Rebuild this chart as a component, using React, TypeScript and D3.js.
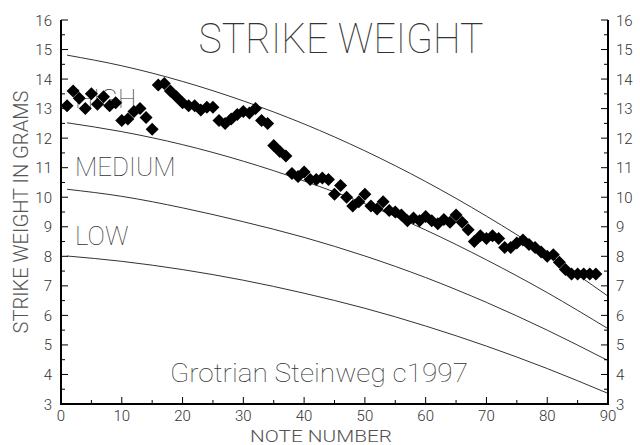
import React from "react";
import * as d3 from "d3";

const notes: number[] = Array.from({ length: 88 }, (_, i) => i + 1);
const weights: number[] = [
  13.1, 13.6, 13.35, 13.0, 13.5, 13.15, 13.4, 13.1, 13.2, 12.6,
  12.65, 12.9, 13.0, 12.7, 12.3, 13.8, 13.85, 13.6, 13.4, 13.2,
  13.1, 13.1, 12.95, 13.05, 13.05, 12.6, 12.5, 12.65, 12.8, 12.9,
  12.85, 13.0, 12.6, 12.5, 11.75, 11.55, 11.4, 10.8, 10.7, 10.85,
  10.6, 10.6, 10.65, 10.6, 10.1, 10.4, 10.0, 9.7, 9.85, 10.1,
  9.7, 9.6, 9.85, 9.55, 9.5, 9.4, 9.2, 9.3, 9.2, 9.35,
  9.2, 9.1, 9.25, 9.15, 9.4, 9.15, 8.9, 8.5, 8.7, 8.6,
  8.7, 8.6, 8.3, 8.3, 8.45, 8.55, 8.4, 8.3, 8.15, 8.0,
  8.05, 7.8, 7.55, 7.4, 7.4, 7.4, 7.4, 7.4,
];

const curveNotes: number[] = [1, 10, 20, 30, 40, 50, 60, 70, 80, 90];
const highUpper: number[] = [14.81, 14.45, 13.92, 13.26, 12.48, 11.57, 10.53, 9.36, 8.07, 6.65];
const highLower: number[] = [12.52, 12.22, 11.78, 11.22, 10.55, 9.78, 8.89, 7.88, 6.77, 5.55];
const mediumLower: number[] = [10.27, 10.03, 9.64, 9.17, 8.64, 8.01, 7.28, 6.44, 5.5, 4.47];
const lowLower: number[] = [8.01, 7.83, 7.55, 7.19, 6.75, 6.24, 5.64, 4.96, 4.2, 3.36];

const yTicks: number[] = [3, 4, 5, 6, 7, 8, 9, 10, 11, 12, 13, 14, 15, 16];
const yMinor: number[] = [3.5, 4.5, 5.5, 6.5, 7.5, 8.5, 9.5, 10.5, 11.5, 12.5, 13.5, 14.5, 15.5];
const xTicks: number[] = [0, 10, 20, 30, 40, 50, 60, 70, 80, 90];
const xMinor: number[] = [5, 15, 25, 35, 45, 55, 65, 75, 85];

const bandLabels: { text: string; value: number }[] = [
  { text: "HIGH", value: 13.36 },
  { text: "MEDIUM", value: 11.05 },
  { text: "LOW", value: 8.71 },
];

export default function App() {
  const W = 640, H = 445;
  const x = d3.scaleLinear().domain([0, 90]).range([61, 608]);
  const y = d3.scaleLinear().domain([3, 16]).range([404, 20]);
  const font = "Roboto, 'DejaVu Sans', sans-serif";
  const thinColor = "#333";
  const lightColor = "#555";

  const line = d3
    .line<number>()
    .x((_, i) => x(curveNotes[i]))
    .y((d) => y(d))
    .curve(d3.curveMonotoneX);

  const curves = [highUpper, highLower, mediumLower, lowLower];
  const r = 6.5;
  const diamond = `M0,${-r}L${r},0L0,${r}L${-r},0Z`;

  return (
    <svg
      width={W}
      height={H}
      style={{ position: "absolute", left: 0, top: 0, background: "#fff" }}
    >
      <rect width={W} height={H} fill="#fff" />
      <text
        x={341}
        y={53}
        textAnchor="middle"
        fontFamily={font}
        fontWeight={100}
        fontSize={42}
        fill={thinColor}
        textLength={285}
        lengthAdjust="spacingAndGlyphs"
      >
        STRIKE WEIGHT
      </text>
      {bandLabels.map((b) => (
        <text
          key={b.text}
          x={75}
          y={y(b.value) + 10}
          fontFamily={font}
          fontWeight={100}
          fontSize={26}
          fill={thinColor}
        >
          {b.text}
        </text>
      ))}
      <text
        x={319}
        y={382}
        textAnchor="middle"
        fontFamily={font}
        fontWeight={100}
        fontSize={26}
        fill={thinColor}
        textLength={298}
        lengthAdjust="spacingAndGlyphs"
      >
        Grotrian Steinweg c1997
      </text>
      <text
        transform={`translate(28,212) rotate(-90)`}
        textAnchor="middle"
        fontFamily={font}
        fontWeight={300}
        fontSize={20}
        fill={lightColor}
        textLength={243}
        lengthAdjust="spacingAndGlyphs"
      >
        STRIKE WEIGHT IN GRAMS
      </text>
      <text
        x={321}
        y={442}
        textAnchor="middle"
        fontFamily={font}
        fontWeight={300}
        fontSize={17}
        fill={lightColor}
        textLength={142}
        lengthAdjust="spacingAndGlyphs"
      >
        NOTE NUMBER
      </text>
      {curves.map((c, i) => (
        <path key={i} d={line(c) || ""} fill="none" stroke="#333" strokeWidth={1} />
      ))}
      {notes.map((n, i) => (
        <path
          key={n}
          d={diamond}
          transform={`translate(${x(n)},${y(weights[i])})`}
          fill="#000"
        />
      ))}
      <line x1={x(0)} x2={x(0)} y1={y(16)} y2={y(3) + 1} stroke="#000" strokeWidth={2} />
      <line x1={x(90)} x2={x(90)} y1={y(16)} y2={y(3) + 1} stroke="#000" strokeWidth={2} />
      <line x1={x(0) - 1} x2={x(90) + 1} y1={y(3)} y2={y(3)} stroke="#000" strokeWidth={2} />
      {yTicks.map((t) => (
        <g key={"yt" + t}>
          <line x1={x(0)} x2={x(0) + 7} y1={y(t)} y2={y(t)} stroke="#000" strokeWidth={1} />
          <line x1={x(90)} x2={x(90) - 7} y1={y(t)} y2={y(t)} stroke="#000" strokeWidth={1} />
          <text
            x={52}
            y={y(t) + 5.5}
            textAnchor="end"
            fontFamily={font}
            fontWeight={300}
            fontSize={15}
            fill="#333"
          >
            {t}
          </text>
          <text
            x={616}
            y={y(t) + 5.5}
            textAnchor="start"
            fontFamily={font}
            fontWeight={300}
            fontSize={15}
            fill="#333"
          >
            {t}
          </text>
        </g>
      ))}
      {yMinor.map((t) => (
        <g key={"ym" + t}>
          <line x1={x(0)} x2={x(0) + 4} y1={y(t)} y2={y(t)} stroke="#000" strokeWidth={1} />
          <line x1={x(90)} x2={x(90) - 4} y1={y(t)} y2={y(t)} stroke="#000" strokeWidth={1} />
        </g>
      ))}
      {xTicks.map((t) => (
        <g key={"xt" + t}>
          <line x1={x(t)} x2={x(t)} y1={y(3)} y2={y(3) - 7} stroke="#000" strokeWidth={1} />
          <text
            x={x(t)}
            y={421}
            textAnchor="middle"
            fontFamily={font}
            fontWeight={300}
            fontSize={15}
            fill="#333"
          >
            {t}
          </text>
        </g>
      ))}
      {xMinor.map((t) => (
        <line key={"xm" + t} x1={x(t)} x2={x(t)} y1={y(3)} y2={y(3) - 4} stroke="#000" strokeWidth={1} />
      ))}
    </svg>
  );
}
